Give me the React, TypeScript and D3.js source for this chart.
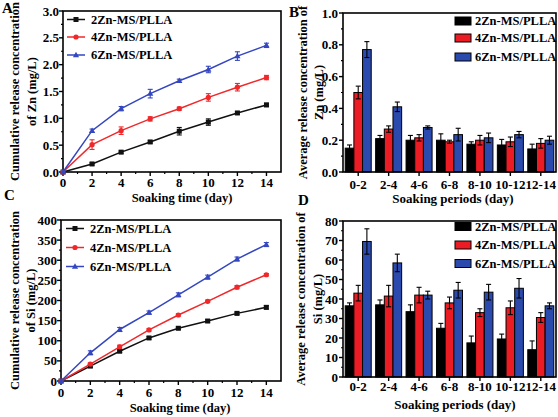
import React from 'react';
import * as d3 from 'd3';

const FONT = "'Liberation Serif', 'Times New Roman', serif";

const days = [0, 2, 4, 6, 8, 10, 12, 14];
const seriesNames = ['2Zn-MS/PLLA', '4Zn-MS/PLLA', '6Zn-MS/PLLA'];
const periods = ['0-2', '2-4', '4-6', '6-8', '8-10', '10-12', '12-14'];

// A: cumulative Zn (mg/L)
const znCum2 = [0, 0.15, 0.37, 0.56, 0.76, 0.93, 1.10, 1.25];
const znCum4 = [0, 0.51, 0.77, 0.99, 1.18, 1.39, 1.58, 1.76];
const znCum6 = [0, 0.77, 1.18, 1.46, 1.70, 1.91, 2.16, 2.36];
const znCum2Err = [0, 0.02, 0.02, 0.02, 0.07, 0.06, 0.02, 0.03];
const znCum4Err = [0, 0.09, 0.07, 0.04, 0.03, 0.07, 0.07, 0.04];
const znCum6Err = [0, 0.03, 0.04, 0.08, 0.03, 0.06, 0.08, 0.04];

// B: average Zn (mg/L)
const znAvg2 = [0.15, 0.21, 0.20, 0.20, 0.175, 0.17, 0.145];
const znAvg4 = [0.50, 0.27, 0.215, 0.19, 0.20, 0.19, 0.18];
const znAvg6 = [0.77, 0.41, 0.28, 0.235, 0.215, 0.235, 0.20];
const znAvg2Err = [0.02, 0.02, 0.03, 0.04, 0.015, 0.035, 0.03];
const znAvg4Err = [0.04, 0.02, 0.02, 0.01, 0.03, 0.03, 0.03];
const znAvg6Err = [0.05, 0.03, 0.01, 0.04, 0.03, 0.02, 0.025];

// C: cumulative Si (mg/L)
const siCum2 = [0, 37, 74, 107, 131, 149, 168, 183];
const siCum4 = [0, 42, 85, 127, 164, 198, 233, 264];
const siCum6 = [0, 70, 128, 170, 214, 258, 303, 339];
const siCum2Err = [0, 3, 3, 3, 3, 3, 3, 4];
const siCum4Err = [0, 3, 4, 3, 3, 3, 4, 3];
const siCum6Err = [0, 5, 5, 4, 5, 5, 5, 5];

// D: average Si (mg/L)
const siAvg2 = [36.5, 37, 33.5, 25, 17.5, 19.5, 14];
const siAvg4 = [43, 41.5, 42, 38, 33, 35.5, 30.5];
const siAvg6 = [69.5, 58.5, 42, 44.5, 43.5, 45.5, 36.5];
const siAvg2Err = [1.5, 2.5, 3.5, 2.5, 3.5, 2.5, 4.5];
const siAvg4Err = [4, 5.5, 4, 3, 2, 3.5, 2.5];
const siAvg6Err = [6.5, 4.5, 2, 4, 4, 5, 1.5];

const lineColors = ['#111111', '#f0282a', '#3446c0'];
const barColors = ['#000000', '#ec1c24', '#2b4aad'];

type Box = { left: number; right: number; top: number; bottom: number };

function Marker({ i, x, y, c }: { i: number; x: number; y: number; c: string }) {
  if (i === 0) return <rect x={x - 2.5} y={y - 2.5} width={5} height={5} fill={c} />;
  if (i === 1) return <circle cx={x} cy={y} r={2.6} fill={c} />;
  return <path d={`M${x},${y - 3.3}L${x + 3.1},${y + 2.2}L${x - 3.1},${y + 2.2}Z`} fill={c} />;
}

function Frame({ b }: { b: Box }) {
  return (
    <rect x={b.left} y={b.top} width={b.right - b.left} height={b.bottom - b.top}
      fill="none" stroke="#000" strokeWidth={1.6} />
  );
}

function YAxis({ b, y, ticks, minors, fmt, labelX }: any) {
  return (
    <g>
      {minors.map((v: number, k: number) => (
        <line key={'m' + k} x1={b.left - 2} x2={b.left} y1={y(v)} y2={y(v)} stroke="#000" strokeWidth={1.2} />
      ))}
      {ticks.map((v: number, k: number) => (
        <g key={k}>
          <line x1={b.left - 4} x2={b.left} y1={y(v)} y2={y(v)} stroke="#000" strokeWidth={1.4} />
          <text x={labelX} y={y(v)} dy="0.35em" textAnchor="end" fontFamily={FONT}
            fontWeight="bold" fontSize={13}>{fmt(v)}</text>
        </g>
      ))}
    </g>
  );
}

function YTitle({ lines, xs, cy }: { lines: string[]; xs: number[]; cy: number }) {
  return (
    <g>
      {lines.map((t, k) => (
        <text key={k} transform={`translate(${xs[k]},${cy}) rotate(-90)`} textAnchor="middle"
          fontFamily={FONT} fontWeight="bold" fontSize={12.5}>{t}</text>
      ))}
    </g>
  );
}

function LinePanel({ b, yMax, yStep, yMinorStep, fmt, vals, errs, legendYs, legendX, titleLines, titleXs,
  xTitleX, xTitleY, tickLabelY, yLabelX }: any) {
  const x = d3.scaleLinear().domain([0, 15]).range([b.left, b.right]);
  const y = d3.scaleLinear().domain([0, yMax]).range([b.bottom, b.top]);
  const yTicks = d3.range(0, yMax + yStep / 2, yStep);
  const yMinors = d3.range(yMinorStep, yMax, yStep).filter(v => v < yMax);
  const xTicks = d3.range(0, 15, 2);
  const xMinors = d3.range(1, 15, 2);
  const line = d3.line<number>().x((_, k) => x(days[k])).y(v => y(v));
  return (
    <g>
      <Frame b={b} />
      {xMinors.map((v: number) => (
        <line key={'xm' + v} x1={x(v)} x2={x(v)} y1={b.bottom} y2={b.bottom + 2} stroke="#000" strokeWidth={1.2} />
      ))}
      {xTicks.map((v: number) => (
        <g key={'x' + v}>
          <line x1={x(v)} x2={x(v)} y1={b.bottom} y2={b.bottom + 4} stroke="#000" strokeWidth={1.4} />
          <text x={x(v)} y={tickLabelY} dy="0.35em" textAnchor="middle" fontFamily={FONT}
            fontWeight="bold" fontSize={13}>{v}</text>
        </g>
      ))}
      <YAxis b={b} y={y} ticks={yTicks} minors={yMinors} fmt={fmt} labelX={yLabelX} />
      {vals.map((s: number[], i: number) => (
        <g key={'s' + i}>
          <path d={line(s) || ''} fill="none" stroke={lineColors[i]} strokeWidth={1.5} />
          {s.map((v, k) => {
            const e = errs[i][k];
            const cx = x(days[k]);
            return (
              <g key={k}>
                {e > 0 && (
                  <g stroke={lineColors[i]} strokeWidth={1.1}>
                    <line x1={cx} x2={cx} y1={y(v - e)} y2={y(v + e)} />
                    <line x1={cx - 2.5} x2={cx + 2.5} y1={y(v - e)} y2={y(v - e)} />
                    <line x1={cx - 2.5} x2={cx + 2.5} y1={y(v + e)} y2={y(v + e)} />
                  </g>
                )}
                <Marker i={i} x={cx} y={y(v)} c={lineColors[i]} />
              </g>
            );
          })}
        </g>
      ))}
      {seriesNames.map((n, i) => (
        <g key={'l' + i}>
          <line x1={legendX} x2={legendX + 18} y1={legendYs[i]} y2={legendYs[i]} stroke={lineColors[i]} strokeWidth={1.5} />
          <Marker i={i} x={legendX + 9} y={legendYs[i]} c={lineColors[i]} />
          <text x={legendX + 24} y={legendYs[i]} dy="0.35em" fontFamily={FONT} fontWeight="bold" fontSize={12.5}>{n}</text>
        </g>
      ))}
      <YTitle lines={titleLines} xs={titleXs} cy={(b.top + b.bottom) / 2} />
      <text x={xTitleX} y={xTitleY} textAnchor="middle" fontFamily={FONT} fontWeight="bold" fontSize={12.5}>
        Soaking time (day)
      </text>
    </g>
  );
}

function BarPanel({ b, yMax, yStep, yMinorStep, fmt, vals, errs, legendYs, legendX, titleLines, titleXs,
  xTitleX, xTitleY, tickLabelY, yLabelX }: any) {
  const x = d3.scaleLinear().domain([0.5, periods.length + 0.5]).range([b.left, b.right]);
  const y = d3.scaleLinear().domain([0, yMax]).range([b.bottom, b.top]);
  const yTicks = d3.range(0, yMax + yStep / 2, yStep);
  const yMinors = d3.range(yMinorStep, yMax, yStep);
  const unit = x(2) - x(1);
  const bw = unit * 0.285;
  return (
    <g>
      {vals.map((s: number[], i: number) => (
        <g key={'b' + i}>
          {s.map((v, k) => {
            const cx = x(k + 1) + (i - 1) * bw;
            const e = errs[i][k];
            return (
              <g key={k}>
                <rect x={cx - bw / 2} y={y(v)} width={bw} height={b.bottom - y(v)} fill={barColors[i]}
                  stroke="#000" strokeWidth={1} />
                <g stroke="#000" strokeWidth={1.1}>
                  <line x1={cx} x2={cx} y1={y(v - e)} y2={y(v + e)} />
                  <line x1={cx - 2.5} x2={cx + 2.5} y1={y(v - e)} y2={y(v - e)} />
                  <line x1={cx - 2.5} x2={cx + 2.5} y1={y(v + e)} y2={y(v + e)} />
                </g>
              </g>
            );
          })}
        </g>
      ))}
      <Frame b={b} />
      {periods.map((p, k) => (
        <g key={'x' + k}>
          <line x1={x(k + 1)} x2={x(k + 1)} y1={b.bottom} y2={b.bottom + 4} stroke="#000" strokeWidth={1.4} />
          <text x={x(k + 1)} y={tickLabelY} dy="0.35em" textAnchor="middle" fontFamily={FONT}
            fontWeight="bold" fontSize={13}>{p}</text>
        </g>
      ))}
      <YAxis b={b} y={y} ticks={yTicks} minors={yMinors} fmt={fmt} labelX={yLabelX} />
      {seriesNames.map((n, i) => (
        <g key={'l' + i}>
          <rect x={legendX} y={legendYs[i] - 4} width={16} height={8} fill={barColors[i]} stroke="#000" strokeWidth={1} />
          <text x={legendX + 20} y={legendYs[i]} dy="0.35em" fontFamily={FONT} fontWeight="bold" fontSize={12.5}>{n}</text>
        </g>
      ))}
      <YTitle lines={titleLines} xs={titleXs} cy={(b.top + b.bottom) / 2} />
      <text x={xTitleX} y={xTitleY} textAnchor="middle" fontFamily={FONT} fontWeight="bold" fontSize={13}>
        Soaking periods (day)
      </text>
    </g>
  );
}

function PanelLabel({ t, x, y }: { t: string; x: number; y: number }) {
  return <text x={x} y={y} fontFamily={FONT} fontWeight="bold" fontSize={15}>{t}</text>;
}

export default function App() {
  return (
    <svg width={558} height={417} style={{ position: 'absolute', left: 0, top: 0, background: '#fff' }}>
      <rect width={558} height={417} fill="#fff" />
      <LinePanel
        b={{ left: 63, right: 281, top: 11, bottom: 172 }}
        yMax={3} yStep={0.5} yMinorStep={0.25} fmt={d3.format('.1f')}
        vals={[znCum2, znCum4, znCum6]} errs={[znCum2Err, znCum4Err, znCum6Err]}
        legendYs={[19.5, 37, 55]} legendX={67}
        titleLines={['Cumulative release concentration', 'of Zn (mg/L)']} titleXs={[19, 36]}
        xTitleX={182} xTitleY={202} tickLabelY={182} yLabelX={59}
      />
      <BarPanel
        b={{ left: 343, right: 556, top: 13, bottom: 172 }}
        yMax={1} yStep={0.2} yMinorStep={0.1} fmt={d3.format('.1f')}
        vals={[znAvg2, znAvg4, znAvg6]} errs={[znAvg2Err, znAvg4Err, znAvg6Err]}
        legendYs={[21, 38, 57]} legendX={455}
        titleLines={['Average release concentration of', 'Zn (mg/L)']} titleXs={[307, 323]}
        xTitleX={453} xTitleY={203} tickLabelY={184} yLabelX={338}
      />
      <LinePanel
        b={{ left: 61, right: 281, top: 220, bottom: 381 }}
        yMax={400} yStep={50} yMinorStep={25} fmt={d3.format('d')}
        vals={[siCum2, siCum4, siCum6]} errs={[siCum2Err, siCum4Err, siCum6Err]}
        legendYs={[228.5, 247.5, 266.5]} legendX={66}
        titleLines={['Cumulative release concentration', 'of Si (mg/L)']} titleXs={[19, 35]}
        xTitleX={180} xTitleY={412} tickLabelY={392} yLabelX={57}
      />
      <BarPanel
        b={{ left: 343, right: 556, top: 221, bottom: 377 }}
        yMax={80} yStep={10} yMinorStep={5} fmt={d3.format('d')}
        vals={[siAvg2, siAvg4, siAvg6]} errs={[siAvg2Err, siAvg4Err, siAvg6Err]}
        legendYs={[226.5, 245, 263.5]} legendX={455}
        titleLines={['Average release concentration of', 'Si (mg/L)']} titleXs={[305, 322]}
        xTitleX={455} xTitleY={409} tickLabelY={386} yLabelX={338}
      />
      <PanelLabel t="A" x={2} y={13} />
      <PanelLabel t="B" x={289} y={17} />
      <PanelLabel t="C" x={4} y={200} />
      <PanelLabel t="D" x={298} y={205} />
    </svg>
  );
}
